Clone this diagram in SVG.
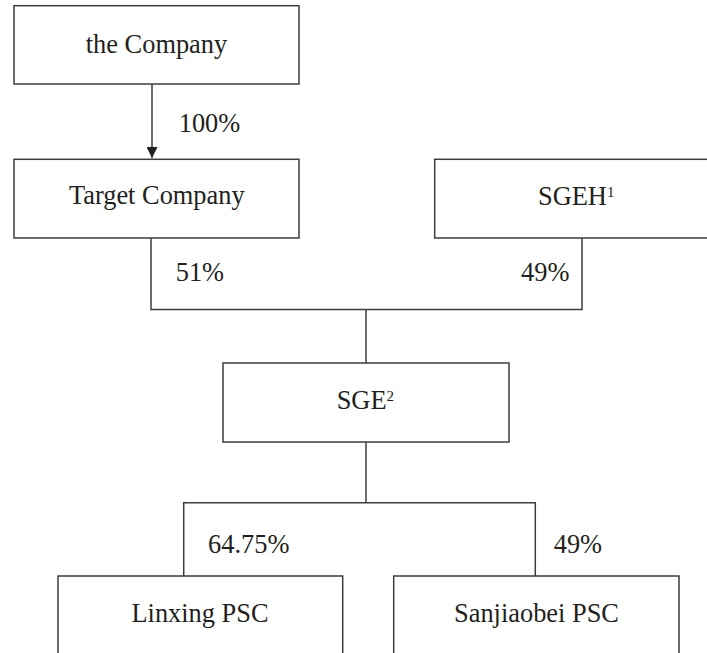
<svg xmlns="http://www.w3.org/2000/svg" width="707" height="653" viewBox="0 0 707 653">
<style>
.box{fill:#fff;stroke:#3c3c3c;stroke-width:1.5}
.ln{fill:none;stroke:#3c3c3c;stroke-width:1.5}
text{font-family:"Liberation Serif","Times New Roman",serif;font-size:26.4px;fill:#231f20}
.c{text-anchor:middle}
.sup{font-size:15px}
</style>
<defs>
<marker id="arr" markerWidth="11" markerHeight="11" refX="11" refY="5.5" orient="auto" markerUnits="userSpaceOnUse">
<path d="M0,0 L11,5.5 L0,11 Z" fill="#231f20"/>
</marker>
</defs>
<rect width="707" height="653" fill="#fff"/>
<g id="connectors">
<line class="ln" x1="152" y1="84" x2="152" y2="158" marker-end="url(#arr)"/>
<polyline class="ln" points="151,238 151,309.5 582,309.5 582,238"/>
<line class="ln" x1="366" y1="309.5" x2="366" y2="363"/>
<line class="ln" x1="366" y1="442" x2="366" y2="502.7"/>
<polyline class="ln" points="183.7,576 183.7,502.7 535.3,502.7 535.3,576"/>
</g>
<g id="the-company">
<rect class="box" x="14" y="5.7" width="285" height="78.3"/>
<text class="c" x="156.5" y="53.3">the Company</text>
</g>
<g id="label-100">
<text x="178.7" y="131.7">100%</text>
</g>
<g id="target-company">
<rect class="box" x="14" y="159.3" width="285" height="78.7"/>
<text class="c" x="156.8" y="204">Target Company</text>
</g>
<g id="sgeh">
<rect class="box" x="434.7" y="159.3" width="285" height="78.7"/>
<text x="538" y="205">SGEH<tspan class="sup" dy="-8">1</tspan></text>
</g>
<g id="label-51">
<text x="175.7" y="281">51%</text>
</g>
<g id="label-49a">
<text x="521" y="281">49%</text>
</g>
<g id="sge">
<rect class="box" x="223" y="363" width="286" height="79"/>
<text x="336.7" y="409">SGE<tspan class="sup" dy="-8">2</tspan></text>
</g>
<g id="label-6475">
<text x="208" y="552.7">64.75%</text>
</g>
<g id="label-49b">
<text x="553.7" y="552.7">49%</text>
</g>
<g id="linxing">
<rect class="box" x="58" y="576" width="284.7" height="82"/>
<text class="c" x="200" y="622">Linxing PSC</text>
</g>
<g id="sanjiaobei">
<rect class="box" x="393.7" y="576" width="285.3" height="82"/>
<text class="c" x="536.5" y="622">Sanjiaobei PSC</text>
</g>
</svg>
